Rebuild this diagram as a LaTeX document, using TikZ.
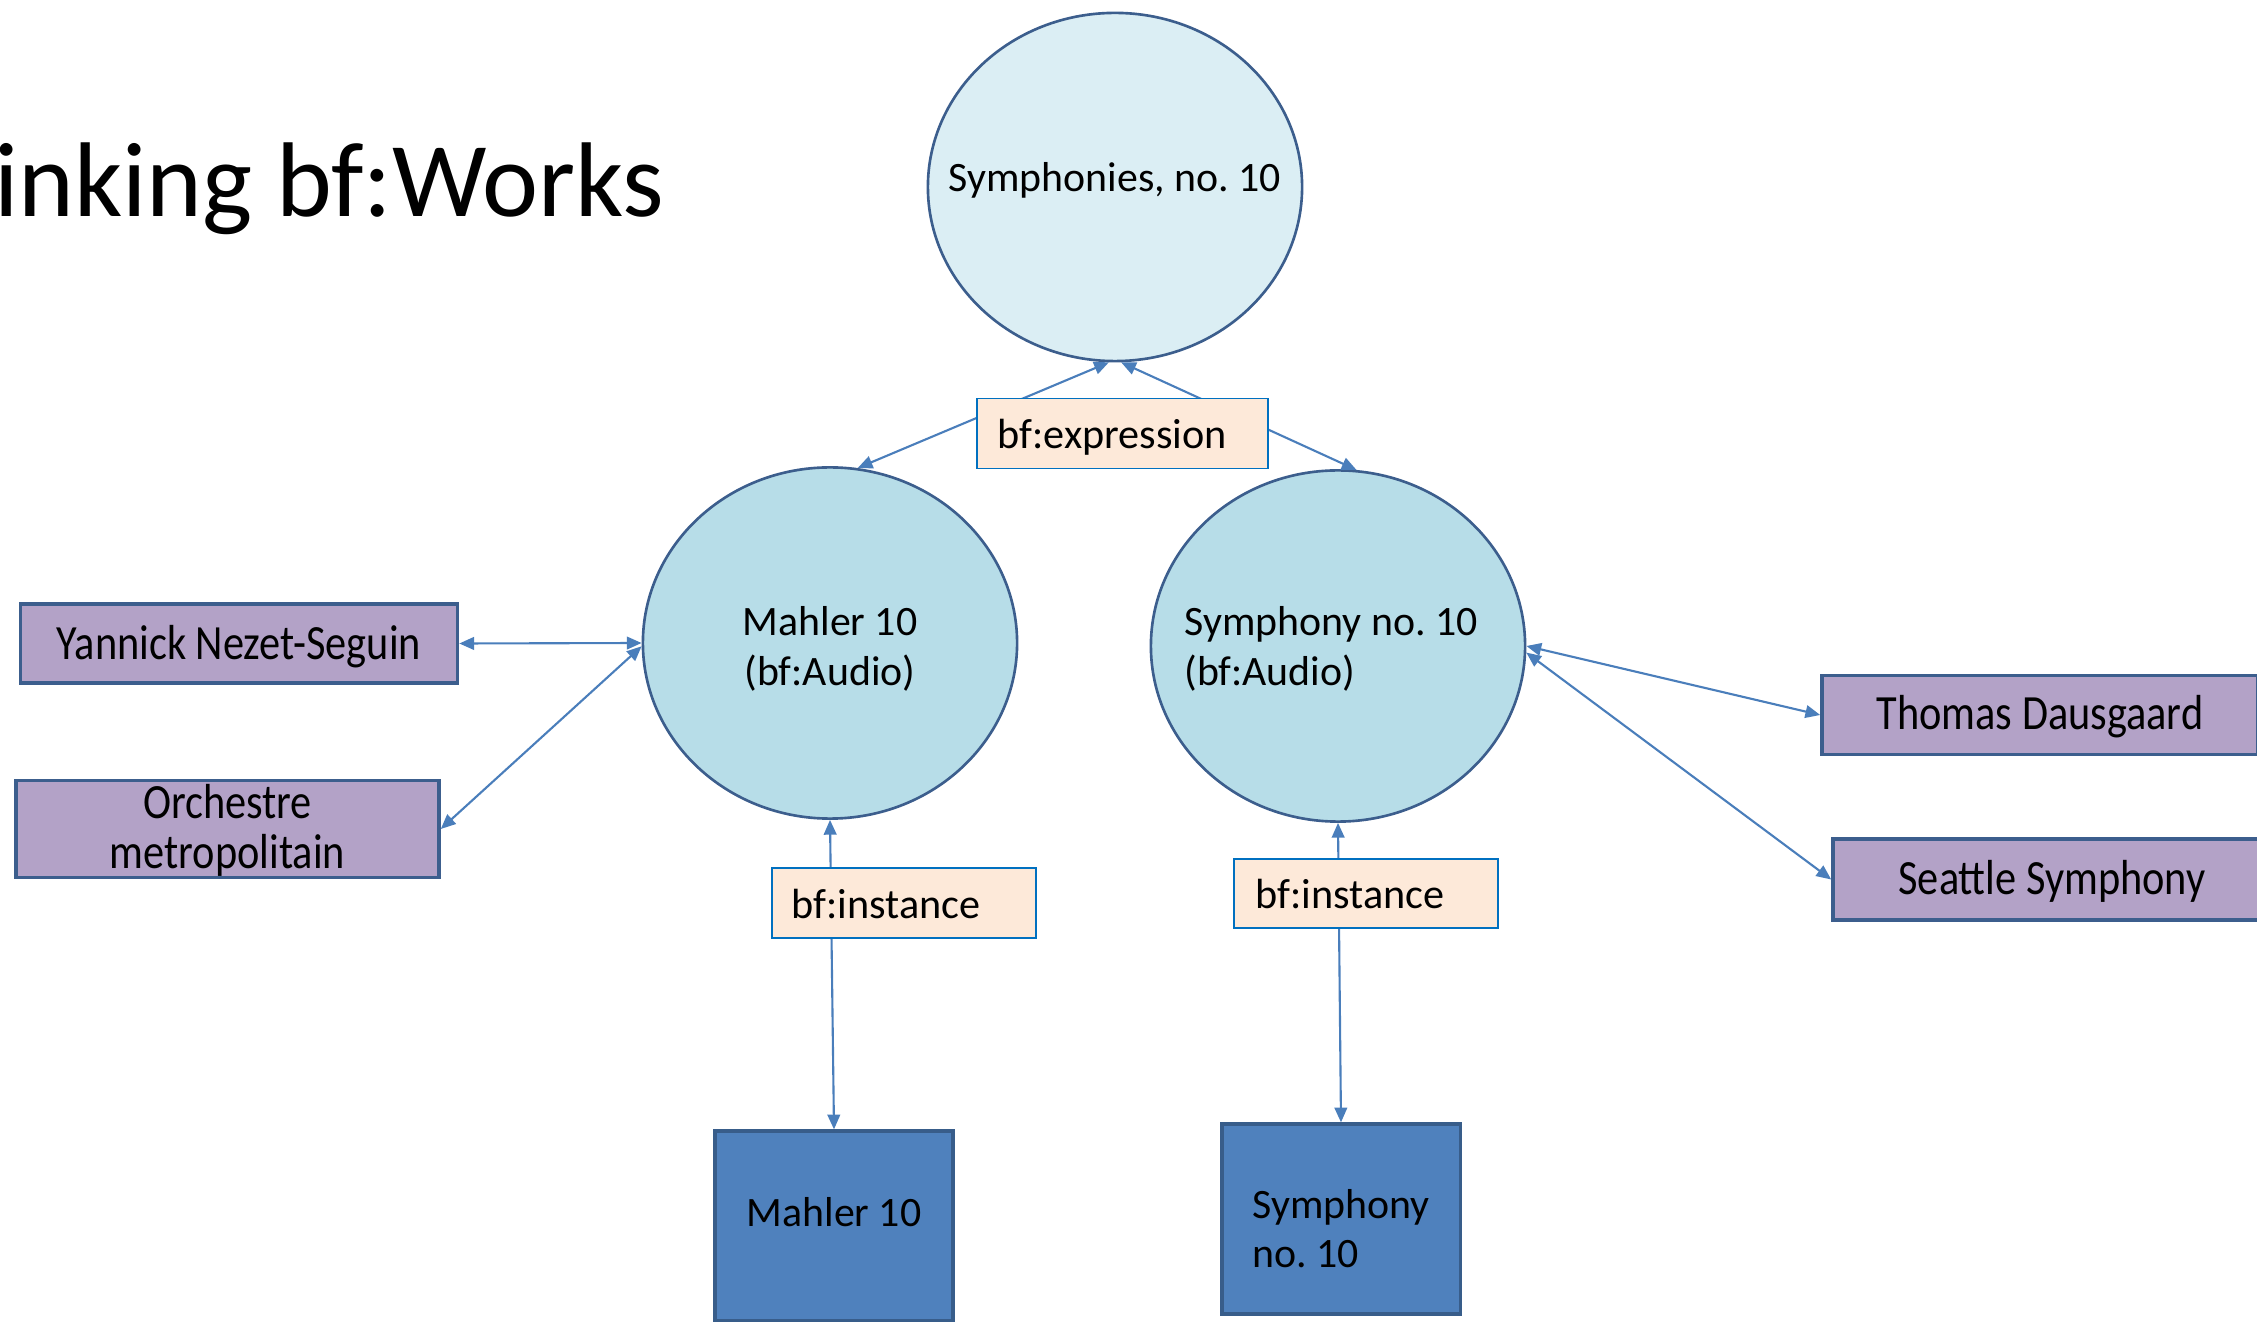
\documentclass[tikz,border=0pt]{standalone}
\usepackage{fontspec}
\setmainfont{Carlito}
\usetikzlibrary{shapes.geometric,arrows.meta}
\definecolor{ellborder}{HTML}{3C5E8D}
\definecolor{topfill}{HTML}{DBEEF4}
\definecolor{midfill}{HTML}{B7DDE8}
\definecolor{purplefill}{HTML}{B3A2C7}
\definecolor{boxborder}{HTML}{3C5E8D}
\definecolor{labelfill}{HTML}{FDE9D9}
\definecolor{labelborder}{HTML}{0070C0}
\definecolor{darkfill}{HTML}{4F81BD}
\definecolor{darkborder}{HTML}{385D8A}
\definecolor{arrowcol}{HTML}{4A7EBB}
% place text so that its first baseline lies #1 above the node centre
\newcommand{\bl}[2]{\raisebox{#1}[0pt][0pt]{#2}}
\newcommand{\zc}[2]{\makebox[0pt]{\bl{#1}{#2}}}
\newcommand{\llines}[1]{\begin{tabular}[t]{@{}l@{}}#1\end{tabular}}
\newcommand{\clines}[1]{\begin{tabular}[t]{@{}c@{}}#1\end{tabular}}
\newcommand{\narrow}[1]{\scalebox{0.86}[1]{#1}}
\frenchspacing
\begin{document}
\begin{tikzpicture}[x=0.01cm,y=-0.01cm,
  every node/.style={font=\fontsize{11.9}{14.2}\selectfont, text=black},
  ell/.style={ellipse, draw=ellborder, line width=0.75pt, inner sep=0pt, minimum width=3.74cm, minimum height=3.5cm},
  person/.style={rectangle, draw=boxborder, fill=purplefill, line width=0.95pt, inner sep=0pt, minimum width=4.37cm, minimum height=0.79cm, font=\fontsize{14}{14.2}\selectfont},
  labelbox/.style={rectangle, draw=labelborder, fill=labelfill, line width=0.5pt, inner ysep=0pt, inner xsep=0.21cm, align=left, minimum height=0.70cm, font=\fontsize{12}{14.2}\selectfont},
  darkbox/.style={rectangle, draw=darkborder, fill=darkfill, line width=0.9pt, inner sep=0pt, minimum width=2.38cm, minimum height=1.90cm},
  link/.style={draw=arrowcol, line width=0.6pt, {Triangle[length=4.2pt,width=3.6pt]}-{Triangle[length=4.2pt,width=3.6pt]}}
]
\useasboundingbox (0,0) rectangle (2257,1322);
\clip (0,0) rectangle (2257,1322);

\node[anchor=base east, inner sep=0pt, font=\fontsize{30.2}{35}\selectfont] (title) at (665,217) {inking bf:Works};

\node[ell, fill=topfill, minimum height=3.48cm] (top) at (1115,187) {\zc{-0.05cm}{Symphonies, no. 10}};
\node[ell, fill=midfill, minimum height=3.51cm] (mahler) at (830,643) {\zc{0.07cm}{\clines{Mahler 10\\(bf:Audio)}}};
\node[ell, fill=midfill, minimum height=3.51cm] (sym) at (1338,646) {\zc{0.10cm}{\hspace*{-0.14cm}\llines{Symphony no. 10\\(bf:Audio)}}};

\node[person] (yannick) at (239,643.5) {\zc{-0.16cm}{\narrow{Yannick Nezet-Seguin}}};
\node[person, minimum width=4.23cm, minimum height=0.97cm] (orch) at (227.5,829) {\zc{0.10cm}{\narrow{\clines{Orchestre\\metropolitain}}}};
\node[person, minimum width=4.36cm] (thomas) at (2040,715) {\zc{-0.14cm}{\narrow{Thomas Dausgaard}}};
\node[person, minimum width=4.38cm, minimum height=0.81cm] (seattle) at (2052,879.5) {\zc{-0.15cm}{\narrow{Seattle Symphony}}};

\node[darkbox] (msq) at (834,1226) {\zc{0cm}{Mahler 10}};
\node[darkbox] (ssq) at (1341,1219) {\zc{0.01cm}{\llines{Symphony\\no. 10}}};

\draw[link] (mahler.81.5) -- (top.268.5);
\draw[link] (sym.84) -- (top.272.5);
\draw[link] (yannick.east) -- (mahler.west);
\draw[link] (orch.east) -- (mahler.181);
\draw[link] (thomas.west) -- (sym.east);
\draw[link] (seattle.west) -- (sym.358.5);
\draw[link] (msq.north) -- (mahler.south);
\draw[link] (ssq.north) -- (sym.south);

\node[labelbox, text width=2.49cm] (expr) at (1122.5,433.5) {\bl{-0.145cm}{bf:expression}};
\node[labelbox, text width=2.24cm, inner xsep=0.2cm] (inst1) at (904,903) {\bl{-0.15cm}{bf:instance}};
\node[labelbox, text width=2.20cm, inner xsep=0.22cm, minimum height=0.69cm] (inst2) at (1366,893.5) {\bl{-0.145cm}{bf:instance}};
\end{tikzpicture}
\end{document}
